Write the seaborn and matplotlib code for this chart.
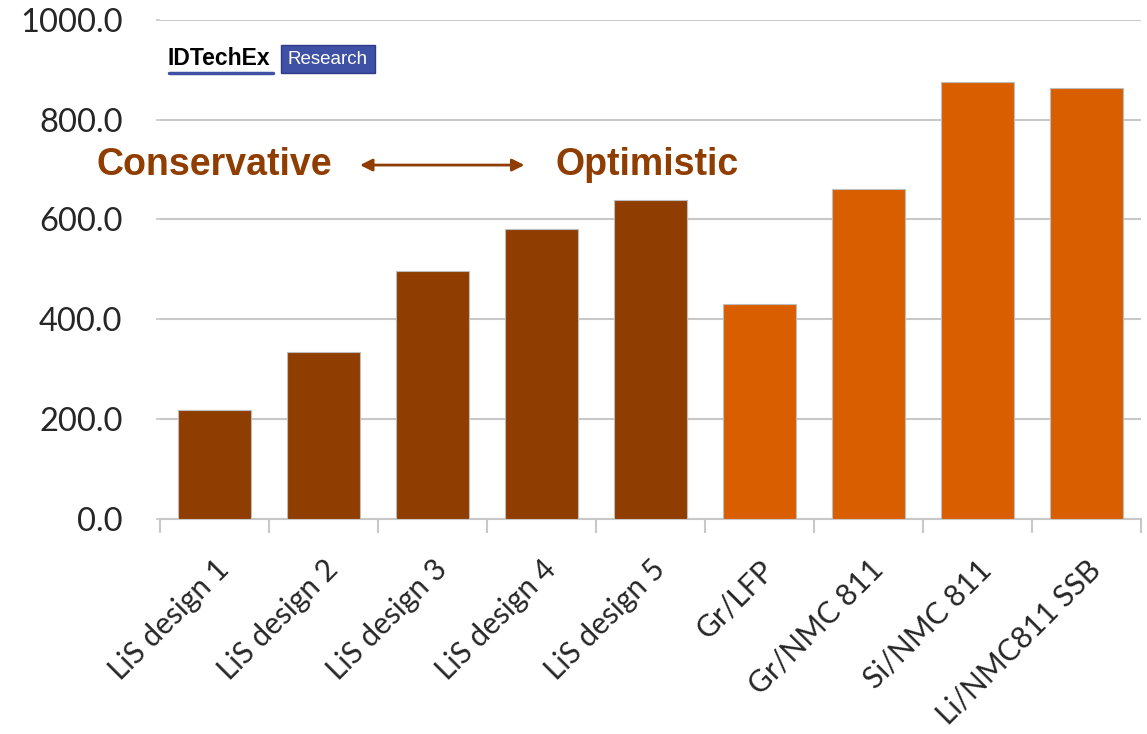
import numpy as np
import pandas as pd
import seaborn as sns
import matplotlib.pyplot as plt
from matplotlib.patches import FancyBboxPatch

categories = ['LiS design 1', 'LiS design 2', 'LiS design 3', 'LiS design 4', 'LiS design 5',
              'Gr/LFP', 'Gr/NMC 811', 'Si/NMC 811', 'Li/NMC811 SSB']
values = [218, 335, 497, 581, 639, 431, 661, 876, 864]
bar_colors = ['#8F3D00'] * 5 + ['#D95E00'] * 4

df = pd.DataFrame({'cell': categories, 'value': values})

sns.set_style('white')
plt.rcParams['font.family'] = ['Lato', 'DejaVu Sans']

fig = plt.figure(figsize=(11.47, 7.34), dpi=100)
ax = fig.add_axes([0.1395, 0.293, 0.855, 0.68])

sns.barplot(data=df, x='cell', y='value', hue='cell', palette=bar_colors, saturation=1,
            legend=False, width=0.67, edgecolor='#bdbdbd', linewidth=0.8, ax=ax, zorder=3)

ax.set_ylim(0, 1000)
ax.set_xlim(-0.5, len(categories) - 0.5)
ax.set_yticks(np.arange(0, 1001, 200))
ax.set_yticklabels([f'{v:.1f}' for v in np.arange(0, 1001, 200)], fontsize=23.5)
ax.yaxis.grid(True, color='#c8c8c8', linewidth=1.5, zorder=0)
ax.tick_params(axis='y', left=True, length=3, width=1.2, color='#c8c8c8', pad=24)

ax.set_xticks(range(len(categories)))
ax.set_xticklabels(categories, rotation=45, ha='right', rotation_mode='anchor', fontsize=21.5)
ax.set_xticks(np.arange(-0.5, len(categories), 1), minor=True)
ax.tick_params(axis='x', which='major', bottom=False, length=0, pad=26)
ax.tick_params(axis='x', which='minor', bottom=True, length=10, width=1.5,
               color='#c8c8c8', direction='out')
ax.set_xlabel('')
ax.set_ylabel('')

for s in ['top', 'right', 'left']:
    ax.spines[s].set_visible(False)
ax.spines['bottom'].set_color('#c8c8c8')
ax.spines['bottom'].set_linewidth(1.5)

# annotations
brown = '#8F3D00'
ax.text(0.0, 709, 'Conservative', color=brown, fontsize=27, fontweight='bold',
        family='Liberation Sans', ha='center', va='center')
ax.text(3.97, 709, 'Optimistic', color=brown, fontsize=27, fontweight='bold',
        family='Liberation Sans', ha='center', va='center')
ax.annotate('', xy=(1.31, 709), xytext=(2.87, 709),
            arrowprops=dict(arrowstyle='<|-|>', color=brown, lw=2, mutation_scale=18))

# logo
fig.text(0.146, 0.92, 'IDTechEx', fontsize=16.5, fontweight='bold', family='Liberation Sans',
         color='black', ha='left', va='center')
fig.add_artist(plt.Line2D([0.147, 0.238], [0.9, 0.9], color='#3F51A5', lw=2.5))
fig.add_artist(FancyBboxPatch((0.245, 0.9), 0.082, 0.039, boxstyle='square,pad=0',
                              transform=fig.transFigure, facecolor='#3F51A5',
                              edgecolor='#2d3c8a', lw=1))
fig.text(0.286, 0.919, 'Research', fontsize=13.5, family='Liberation Sans',
         color='white', ha='center', va='center')

fig.savefig('out.png', dpi=100)
